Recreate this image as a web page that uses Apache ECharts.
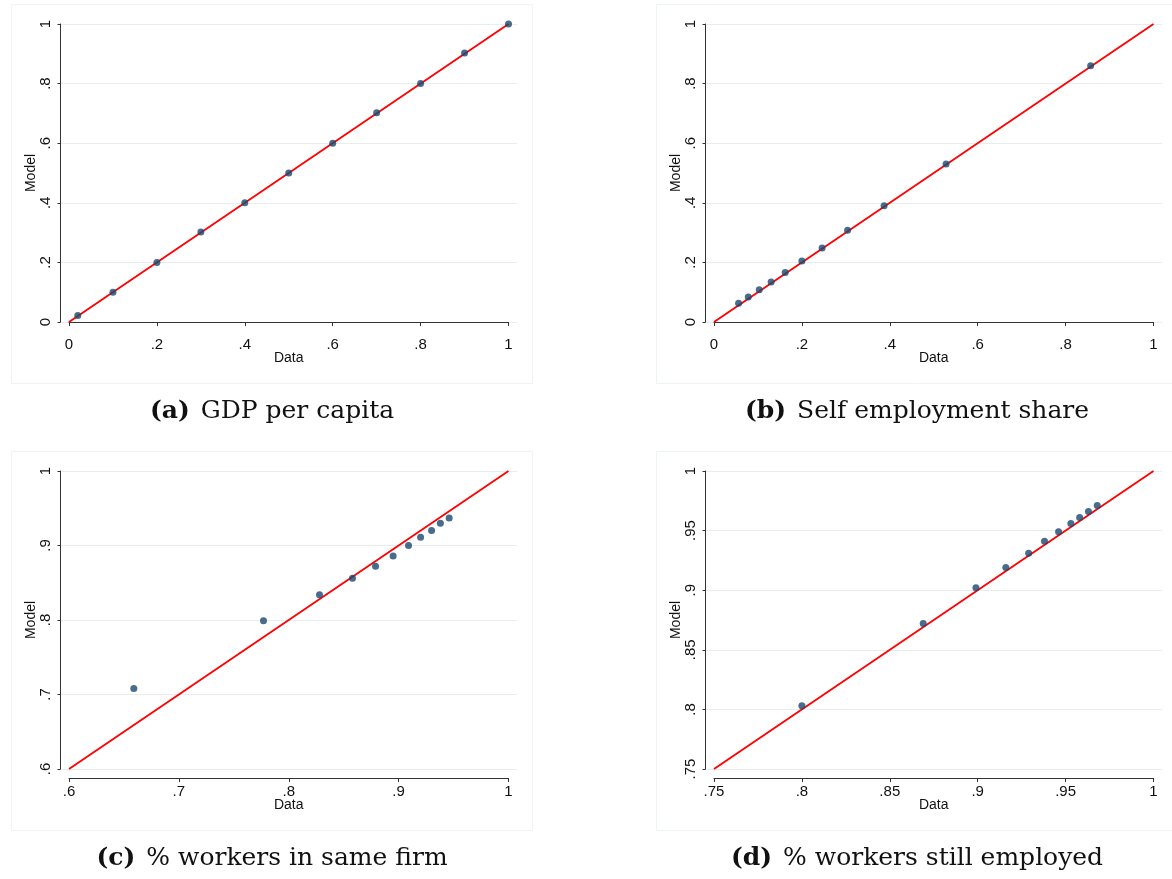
<!DOCTYPE html>
<html>
<head>
<meta charset="utf-8">
<script src="https://cdn.jsdelivr.net/npm/echarts@6/dist/echarts.min.js"></script>
<style>
  * { margin: 0; padding: 0; }
  body { background: #fff; }
  #container { width: 1172px; height: 879px; }
</style>
</head>
<body>
<div id="container"></div>
<script>
// (a) GDP per capita
var gdpData  = [0.02, 0.1, 0.2, 0.3, 0.4, 0.5, 0.6, 0.7, 0.8, 0.9, 1.0];
var gdpModel = [0.022, 0.1, 0.2, 0.302, 0.4, 0.5, 0.6, 0.702, 0.8, 0.903, 1.0];
// (b) Self employment share
var selfData  = [0.056, 0.078, 0.103, 0.130, 0.162, 0.200, 0.246, 0.304, 0.387, 0.528, 0.857];
var selfModel = [0.063, 0.084, 0.108, 0.134, 0.166, 0.205, 0.248, 0.308, 0.390, 0.530, 0.860];
// (c) % workers in same firm
var firmData  = [0.659, 0.777, 0.828, 0.858, 0.879, 0.895, 0.909, 0.920, 0.930, 0.938, 0.946];
var firmModel = [0.708, 0.799, 0.834, 0.856, 0.872, 0.886, 0.900, 0.911, 0.920, 0.930, 0.937];
// (d) % workers still employed
var empData  = [0.800, 0.869, 0.899, 0.916, 0.929, 0.938, 0.946, 0.953, 0.958, 0.963, 0.968];
var empModel = [0.803, 0.872, 0.902, 0.919, 0.931, 0.941, 0.949, 0.956, 0.961, 0.966, 0.971];

var letters  = ['(a)', '(b)', '(c)', '(d)'];
var captions = ['GDP per capita', 'Self employment share', '% workers in same firm', '% workers still employed'];
var axisMin  = [0, 0, 0.6, 0.75];
var axisStep = [0.2, 0.2, 0.1, 0.05];
var axisMax  = 1;

var xs = [gdpData, selfData, firmData, empData];
var ys = [gdpModel, selfModel, firmModel, empModel];

var dom = document.getElementById('container');
var myChart = echarts.init(dom, null, { renderer: 'canvas' });

var axisColor = '#333';
var gridColor = '#e6eef0';
var sans = '"Liberation Sans", Arial, sans-serif';
var serif = '"DejaVu Serif", serif';

function fmt(v) {
  var s = (+v.toFixed(2)).toString();
  return s.replace(/^0\./, '.');
}

var grid = [], xAxis = [], yAxis = [], series = [], graphic = [];

for (var i = 0; i < 4; i++) {
  var ox = (i % 2) * 645;
  var oy = Math.floor(i / 2) * 447;
  var lo = axisMin[i], step = axisStep[i];

  // outer grid: gridlines + y axis (a bit wider than the data area, like stata)
  grid.push({ left: ox + 60.5, top: oy + 24, width: 456.5, height: 298, outerBoundsMode: 'none' });
  // inner grid: data + x axis
  grid.push({ left: ox + 69, top: oy + 24, width: 439.5, height: 298, outerBoundsMode: 'none' });

  xAxis.push({ gridIndex: 2 * i, type: 'value', min: lo, max: axisMax, show: false });
  xAxis.push({
    gridIndex: 2 * i + 1, type: 'value', min: lo, max: axisMax, interval: step,
    offset: 9,
    name: 'Data', nameLocation: 'middle', nameGap: 20, nameMoveOverlap: false,
    nameTextStyle: { color: '#111', fontFamily: sans, fontSize: 14 },
    axisLine: { show: true, lineStyle: { color: axisColor, width: 1 } },
    axisTick: { show: true, length: 4, lineStyle: { color: axisColor } },
    axisLabel: { color: '#111', fontFamily: sans, fontSize: 15, margin: 6, formatter: fmt,
                 showMinLabel: true, showMaxLabel: true },
    splitLine: { show: false }
  });

  yAxis.push({
    gridIndex: 2 * i, type: 'value', min: lo, max: axisMax, interval: step,
    name: 'Model', nameLocation: 'middle', nameGap: 22, nameRotate: 90, nameMoveOverlap: false,
    nameTextStyle: { color: '#111', fontFamily: sans, fontSize: 14 },
    axisLine: { show: true, lineStyle: { color: axisColor, width: 1 } },
    axisTick: { show: true, length: 3, lineStyle: { color: axisColor } },
    axisLabel: { color: '#111', fontFamily: sans, fontSize: 15, margin: 7, rotate: 90, formatter: fmt,
                 showMinLabel: true, showMaxLabel: true },
    splitLine: { show: true, lineStyle: { color: gridColor, width: 1.2 } }
  });
  yAxis.push({ gridIndex: 2 * i + 1, type: 'value', min: lo, max: axisMax, show: false });

  // 45 degree line
  series.push({
    type: 'line', xAxisIndex: 2 * i + 1, yAxisIndex: 2 * i + 1,
    data: [[lo, lo], [axisMax, axisMax]],
    symbol: 'none', lineStyle: { color: '#ff0000', width: 1.8 }, z: 2, silent: true
  });
  series.push({
    type: 'scatter', xAxisIndex: 2 * i + 1, yAxisIndex: 2 * i + 1,
    data: xs[i].map(function (x, k) { return [x, ys[i][k]]; }),
    symbol: 'circle', symbolSize: 7,
    itemStyle: { color: '#1a476f' }, z: 3
  });

  // faint panel border
  graphic.push({
    type: 'rect', left: ox + 9, top: oy + 2,
    shape: { width: 521, height: 379 },
    style: { fill: 'none', stroke: '#eef3f4', lineWidth: 1 }, silent: true
  });
  // caption
  graphic.push({
    type: 'text', x: ox + 272, y: oy + 411,
    style: {
      text: '{b|' + letters[i] + '}{n|' + captions[i] + '}',
      align: 'center', verticalAlign: 'middle',
      rich: {
        b: { fontFamily: serif, fontSize: 25, fontWeight: 'bold', fill: '#111', padding: [0, 11, 0, 0] },
        n: { fontFamily: serif, fontSize: 25, fill: '#111' }
      }
    }
  });
}

var option = {
  animation: false,
  backgroundColor: '#fff',
  grid: grid,
  xAxis: xAxis,
  yAxis: yAxis,
  series: series,
  graphic: graphic
};

myChart.setOption(option);
</script>
</body>
</html>
